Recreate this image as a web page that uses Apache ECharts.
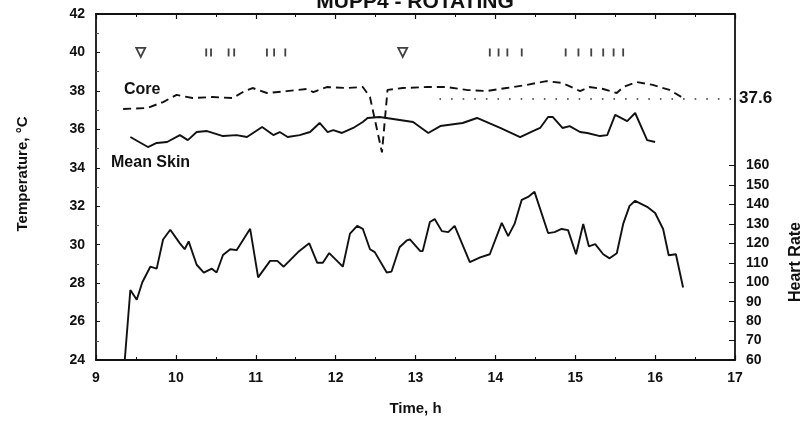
<!DOCTYPE html>
<html>
<head>
<meta charset="UTF-8">
<title>MUPP4 - ROTATING</title>
<script src="https://cdn.jsdelivr.net/npm/echarts@6.0.0/dist/echarts.min.js"></script>
<style>
  html, body { margin: 0; padding: 0; background: #fff; }
  #main { width: 806px; height: 421px; }
</style>
</head>
<body>
<div id="main"></div>
<script>
// Core temperature (dashed line), deg C
var coreTime = [9.34, 9.64, 9.84, 10.01, 10.21, 10.46, 10.71, 10.84, 10.96, 11.14, 11.39, 11.64, 11.72, 11.89, 12.14, 12.34, 12.43, 12.58, 12.65, 12.84, 13.14, 13.39, 13.64, 13.89, 14.14, 14.39, 14.64, 14.84, 15.06, 15.18, 15.35, 15.52, 15.6, 15.77, 15.97, 16.18, 16.33];
var coreTemp = [37.06, 37.11, 37.42, 37.79, 37.63, 37.68, 37.63, 37.94, 38.15, 37.89, 37.99, 38.1, 37.94, 38.2, 38.15, 38.2, 37.68, 34.8, 38.05, 38.15, 38.2, 38.2, 38.05, 37.99, 38.15, 38.31, 38.51, 38.41, 37.99, 38.2, 38.1, 37.89, 38.2, 38.46, 38.31, 38.05, 37.68];

// Mean skin temperature, deg C
var skinTime = [9.43, 9.65, 9.76, 9.89, 10.05, 10.15, 10.26, 10.39, 10.59, 10.76, 10.89, 11.08, 11.22, 11.3, 11.4, 11.55, 11.68, 11.8, 11.9, 11.97, 12.08, 12.22, 12.34, 12.4, 12.55, 12.72, 12.97, 13.16, 13.31, 13.59, 13.77, 14.06, 14.31, 14.47, 14.56, 14.66, 14.72, 14.84, 14.93, 15.06, 15.15, 15.31, 15.4, 15.5, 15.65, 15.75, 15.9, 16.0];
var skinTemp = [35.6, 35.08, 35.29, 35.34, 35.7, 35.44, 35.86, 35.91, 35.65, 35.7, 35.6, 36.12, 35.7, 35.86, 35.6, 35.7, 35.86, 36.33, 35.86, 35.96, 35.81, 36.07, 36.38, 36.59, 36.64, 36.54, 36.38, 35.81, 36.17, 36.33, 36.59, 36.07, 35.6, 35.91, 36.07, 36.64, 36.64, 36.07, 36.17, 35.86, 35.81, 35.65, 35.7, 36.75, 36.43, 36.85, 35.44, 35.34];

// Heart rate, beats/min (right axis)
var hrTime = [9.36, 9.43, 9.51, 9.58, 9.68, 9.76, 9.84, 9.93, 10.05, 10.11, 10.16, 10.26, 10.35, 10.45, 10.51, 10.59, 10.68, 10.76, 10.93, 11.03, 11.18, 11.27, 11.35, 11.53, 11.67, 11.77, 11.84, 11.92, 12.09, 12.18, 12.27, 12.34, 12.43, 12.49, 12.64, 12.7, 12.8, 12.89, 12.93, 13.06, 13.09, 13.18, 13.24, 13.33, 13.41, 13.49, 13.68, 13.81, 13.93, 14.08, 14.16, 14.24, 14.33, 14.41, 14.49, 14.66, 14.74, 14.83, 14.91, 15.01, 15.1, 15.17, 15.25, 15.35, 15.43, 15.52, 15.6, 15.68, 15.75, 15.9, 16.0, 16.1, 16.17, 16.26, 16.35];
var hrRate = [60, 96, 91, 100, 108, 107, 122, 127, 120, 117, 121, 109, 105, 107, 105, 114, 117, 116.5, 127.5, 102.5, 111, 111, 108, 115.5, 120, 110, 110, 115, 108, 125, 129, 127.5, 117, 115.5, 105, 105.5, 118, 121.5, 122, 116, 116, 131, 132.5, 126.3, 125.8, 129, 110.3, 112.8, 114.4, 130.5, 123.7, 130, 142.4, 143.9, 146.5, 125.3, 125.8, 127.4, 126.8, 114.4, 130, 118.5, 119.6, 114.4, 112.3, 114.9, 130, 139.3, 141.9, 138.8, 135.6, 127.4, 113.9, 114.4, 97.3];

// event markers drawn on the 40 deg line
var triangleTimes = [9.56, 12.84];
var tickTimes = [10.38, 10.44, 10.66, 10.73, 11.14, 11.23, 11.37, 13.93, 14.04, 14.15, 14.33, 14.88, 15.04, 15.2, 15.35, 15.48, 15.6];
var markerLevel = 40;
var refCore = 37.6;

function pairs(xs, ys) {
  return xs.map(function (x, i) { return [x, ys[i]]; });
}

var font = '"Liberation Sans", Arial, sans-serif';
var ink = '#111';

var chart = echarts.init(document.getElementById('main'));

var xBase = {
  type: 'value', min: 9, max: 17, interval: 1,
  axisLine: { lineStyle: { color: ink, width: 1.8 } },
  axisTick: { inside: true, length: 5, lineStyle: { color: ink, width: 1.2 } },
  minorTick: { show: true, splitNumber: 2, length: 3, lineStyle: { color: ink } },
  splitLine: { show: false }
};

var option = {
  animation: false,
  backgroundColor: '#fff',
  grid: { left: 96, right: 71, top: 14, bottom: 61 },
  xAxis: [
    Object.assign({}, xBase, {
      position: 'bottom',
      name: 'Time, h', nameLocation: 'middle', nameGap: 41,
      nameTextStyle: { fontFamily: font, fontSize: 15, fontWeight: 'bold', color: ink },
      axisLabel: { fontFamily: font, fontSize: 14, fontWeight: 'bold', color: ink, margin: 11 }
    }),
    Object.assign({}, xBase, { position: 'top', axisLabel: { show: false } })
  ],
  yAxis: [
    {
      type: 'value', min: 24, max: 42, interval: 2, position: 'left',
      axisLine: { show: true, lineStyle: { color: ink, width: 1.8 } },
      axisTick: { inside: true, length: 4, lineStyle: { color: ink } },
      minorTick: { show: true, splitNumber: 2, length: 3, lineStyle: { color: '#555' } },
      splitLine: { show: false },
      axisLabel: { fontFamily: font, fontSize: 14, fontWeight: 'bold', color: ink, margin: 11 }
    },
    {
      type: 'value', min: 60, max: 238, interval: 10, position: 'right',
      axisLine: { show: true, lineStyle: { color: ink, width: 1.8 } },
      axisTick: {
        inside: true, length: 6, lineStyle: { color: ink },
        customValues: [60, 70, 80, 90, 100, 110, 120, 130, 140, 150, 160]
      },
      splitLine: { show: false },
      axisLabel: {
        fontFamily: font, fontSize: 14, fontWeight: 'bold', color: ink, margin: 11,
        formatter: function (v) { return v <= 160 ? String(v) : ''; }
      }
    }
  ],
  graphic: [
    { type: 'text', x: 415, y: 13,
      style: { text: 'MUPP4 - ROTATING', font: 'bold 21px ' + font, fill: ink, align: 'center', verticalAlign: 'bottom' } },
    { type: 'text', x: 23, y: 174, rotation: Math.PI / 2,
      style: { text: 'Temperature, °C', font: 'bold 15px ' + font, fill: ink, align: 'center', verticalAlign: 'middle' } },
    { type: 'text', x: 796, y: 262, rotation: Math.PI / 2,
      style: { text: 'Heart Rate', font: 'bold 16px ' + font, fill: ink, align: 'center', verticalAlign: 'middle' } },
    { type: 'text', x: 124, y: 90,
      style: { text: 'Core', font: 'bold 16px ' + font, fill: ink, align: 'left', verticalAlign: 'middle' } },
    { type: 'text', x: 111, y: 163,
      style: { text: 'Mean Skin', font: 'bold 16px ' + font, fill: ink, align: 'left', verticalAlign: 'middle' } }
  ],
  series: [
    {
      name: 'Core', type: 'line', yAxisIndex: 0, showSymbol: false, symbol: 'none',
      data: pairs(coreTime, coreTemp),
      lineStyle: { color: ink, width: 1.9, type: [8, 5] },
      markLine: {
        silent: true, symbol: 'none',
        lineStyle: { color: '#333', width: 1.6, type: [1.6, 10] },
        label: { show: true, position: 'end', distance: 4, formatter: String(refCore),
          fontFamily: font, fontSize: 17, fontWeight: 'bold', color: ink },
        data: [[{ coord: [13.3, refCore] }, { coord: [17, refCore] }]]
      }
    },
    {
      name: 'Mean Skin', type: 'line', yAxisIndex: 0, showSymbol: false, symbol: 'none',
      data: pairs(skinTime, skinTemp),
      lineStyle: { color: ink, width: 1.9 }
    },
    {
      name: 'Heart Rate', type: 'line', yAxisIndex: 1, showSymbol: false, symbol: 'none',
      data: pairs(hrTime, hrRate),
      lineStyle: { color: ink, width: 1.9 }
    },
    {
      type: 'scatter', yAxisIndex: 0, symbol: 'triangle', symbolRotate: 180, symbolSize: [9, 9],
      data: triangleTimes.map(function (t) { return [t, markerLevel]; }),
      itemStyle: { color: '#fff', borderColor: ink, borderWidth: 1.8 }
    },
    {
      type: 'scatter', yAxisIndex: 0, symbol: 'rect', symbolSize: [1.8, 8],
      data: tickTimes.map(function (t) { return [t, markerLevel]; }),
      itemStyle: { color: ink }
    }
  ]
};

chart.setOption(option);
</script>
</body>
</html>
